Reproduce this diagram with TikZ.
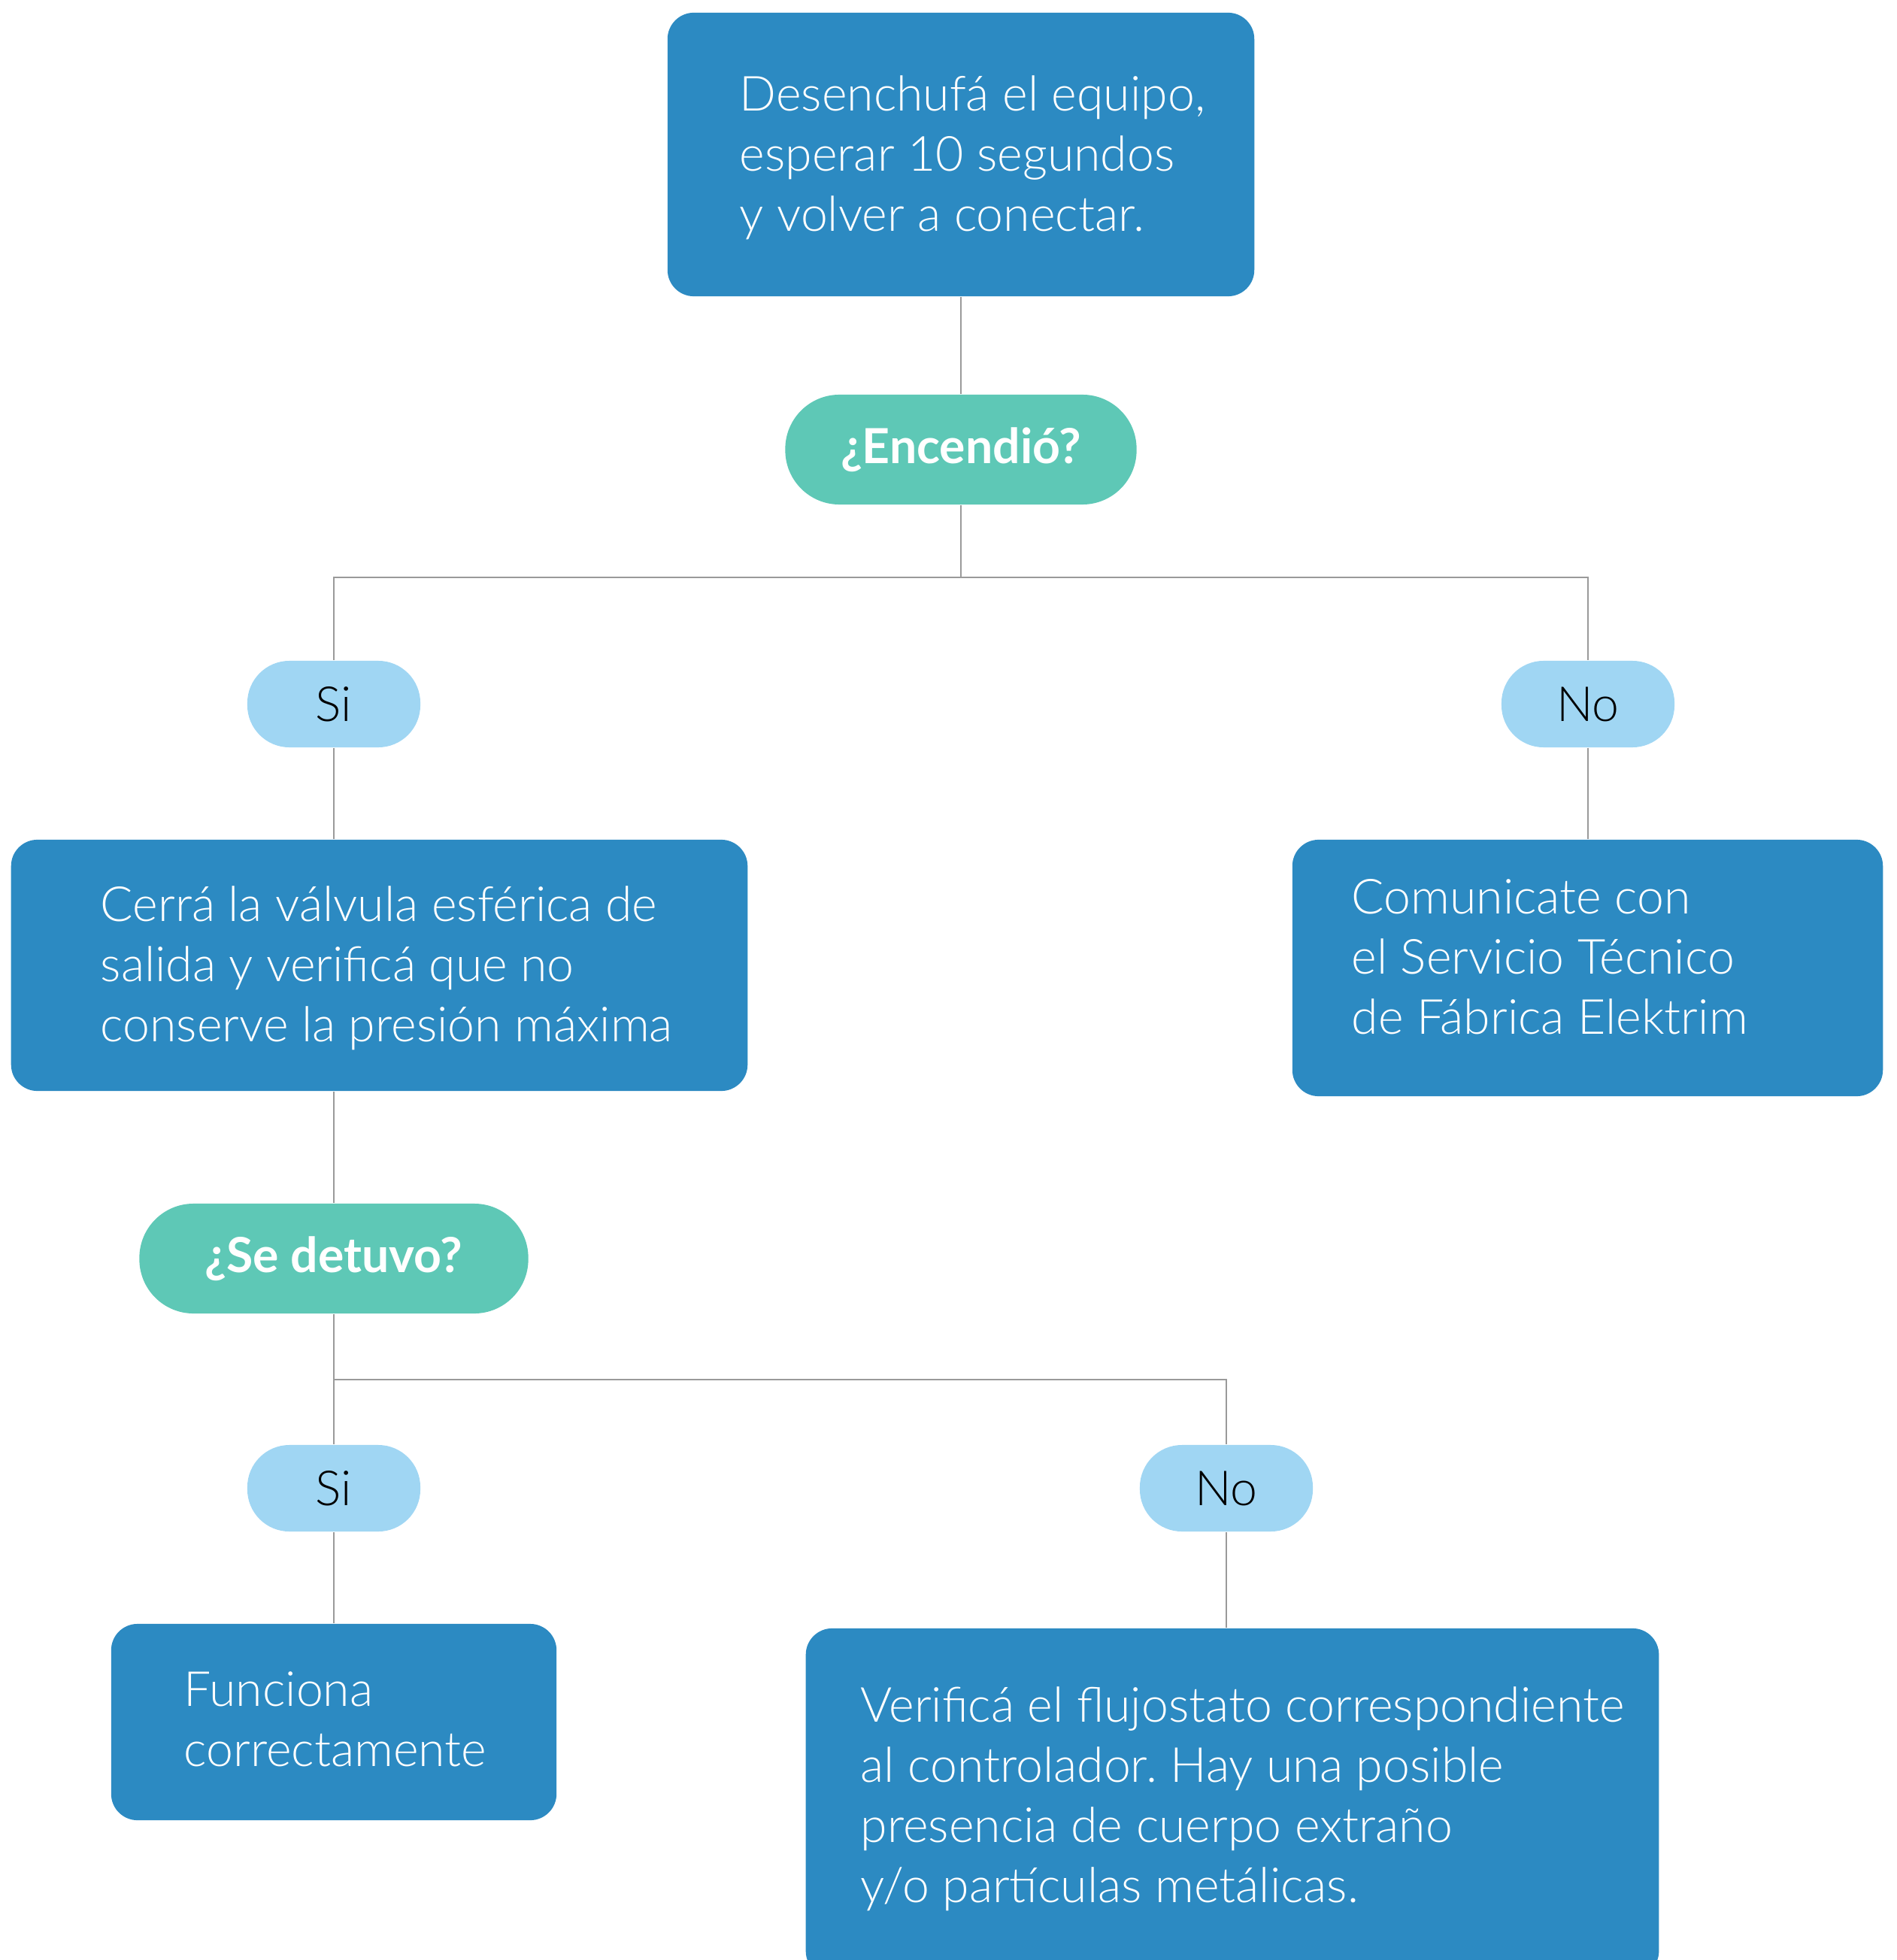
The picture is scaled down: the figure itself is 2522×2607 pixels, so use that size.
\documentclass[tikz,border=0pt]{standalone}
\usepackage{fontspec}
\setmainfont{Lato}[UprightFont={* Light}, BoldFont={* Bold}]
\definecolor{boxblue}{HTML}{2C8AC2}
\definecolor{qgreen}{HTML}{5EC8B6}
\definecolor{ansblue}{HTML}{A0D6F3}
\definecolor{linegray}{HTML}{9A9A9A}
\newcommand{\bodyfnt}{\fontsize{18.3}{22.76}\selectfont}
\frenchspacing
\begin{document}
\frenchspacing
\begin{tikzpicture}[x=0.01cm,y=-0.01cm,
  box/.style={fill=boxblue, rounded corners=0.35cm, inner sep=0pt},
  txt/.style={text=white, align=left, anchor=west, inner sep=0pt, font=\bodyfnt},
  question/.style={fill=qgreen, rounded corners=0.72cm, inner sep=0pt, text=white, font=\bodyfnt\bfseries, minimum height=1.46cm},
  answer/.style={fill=ansblue, rounded corners=0.56cm, inner sep=0pt, text=black, font=\bodyfnt, minimum width=2.3cm, minimum height=1.15cm},
  conn/.style={draw=linegray, line width=0.6pt}]
\useasboundingbox (0,0) rectangle (2522,2607);

% boxes
\node[box, minimum width=7.80cm, minimum height=3.77cm] (top) at (1278,205.5) {};
\node[txt] (toptxt) at (983,210) {Desenchufá el equipo,\\esperar 10 segundos\\y volver a conectar.};

\node[question, minimum width=4.67cm] (enc) at (1278,598) {¿Encendió?};
\coordinate (br1) at (1278,768);

\node[answer] (si1) at (444,936.5) {Si};
\node[answer] (no1) at (2112,936.5) {No};

\node[box, minimum width=9.79cm, minimum height=3.34cm] (cerra) at (504.5,1284) {};
\node[txt] (cerratxt) at (133,1288) {Cerrá la válvula esférica de\\salida y verificá que no\\conserve la presión máxima};

\node[box, minimum width=7.85cm, minimum height=3.41cm] (com) at (2111.5,1287.5) {};
\node[txt] (comtxt) at (1797,1273) {Comunicate con\\el Servicio Técnico\\de Fábrica Elektrim};

\node[question, minimum width=5.17cm] (det) at (444,1674) {¿Se detuvo?};
\coordinate (br2) at (444,1835);

\node[answer] (si2) at (444,1979.5) {Si};
\node[answer] (no2) at (1631,1979.5) {No};

\node[box, minimum width=5.92cm, minimum height=2.61cm] (func) at (444,2290.5) {};
\node[txt] (functxt) at (244,2287) {Funciona\\correctamente};

\node[box, minimum width=11.34cm, minimum height=4.64cm] (ver) at (1639,2398) {};
\node[txt] (vertxt) at (1144,2393) {Verificá el flujostato correspondiente\\al controlador. Hay una posible\\presencia de cuerpo extraño\\y/o partículas metálicas.};

% connectors
\draw[conn] (top) -- (enc);
\draw[conn] (enc) -- (br1);
\draw[conn] (br1) -| (si1);
\draw[conn] (br1) -| (no1);
\draw[conn] (si1) -- (si1 |- cerra.north);
\draw[conn] (no1) -- (no1 |- com.north);
\draw[conn] (cerra.south -| det) -- (det);
\draw[conn] (det) -- (br2);
\draw[conn] (br2) -| (si2);
\draw[conn] (br2) -| (no2);
\draw[conn] (si2) -- (si2 |- func.north);
\draw[conn] (no2) -- (no2 |- ver.north);
\end{tikzpicture}
\end{document}
